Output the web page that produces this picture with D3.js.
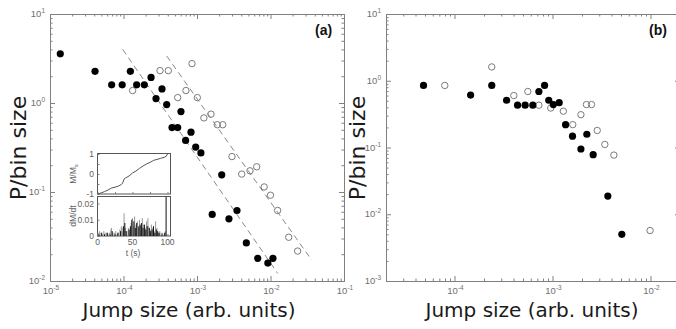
<!DOCTYPE html>
<html lang="en">
<head>
<meta charset="utf-8">
<title>P/bin size vs jump size</title>
<script src="https://d3js.org/d3.v7.min.js"></script>
<style>
  body { margin: 0; background: #fff; }
  svg { display: block; }
  .frame { fill: none; stroke: #808080; stroke-width: 1; }
  .axis path { display: none; }
  .axis line { stroke: #808080; }
  .ticklab { font-family: "Liberation Sans Narrow", "Liberation Sans", Arial, sans-serif; font-size: 9.5px; fill: #707070; }
  .title { font-family: "DejaVu Sans", sans-serif; font-size: 20px; fill: #1a1a1a; }
  .tag { font-family: "Liberation Sans", Arial, sans-serif; font-size: 14px; font-weight: bold; fill: #111; }
  .inlab { font-family: "Liberation Sans Narrow", "Liberation Sans", Arial, sans-serif; font-size: 8.5px; fill: #606060; }
</style>
</head>
<body>
<div id="chart"></div>
<script>
// ---- panel (a) data ----
var aFilledX = [1.38e-5, 4.1e-5, 6.9e-5, 9.6e-5, 1.24e-4, 1.51e-4, 1.92e-4, 2.37e-4, 2.77e-4, 3.34e-4, 3.87e-4, 4.57e-4, 5.46e-4, 6.05e-4, 7.0e-4, 8.28e-4, 9.6e-4, 1.13e-3, 1.61e-3, 2.17e-3, 2.72e-3, 3.5e-3, 4.69e-3, 6.7e-3, 9.2e-3, 1.08e-2];
var aFilledY = [3.57, 2.27, 1.6, 1.6, 2.27, 1.6, 1.6, 1.94, 1.12, 1.44, 0.96, 0.53, 0.53, 0.80, 0.38, 0.47, 0.32, 0.275, 0.056, 0.156, 0.050, 0.062, 0.0268, 0.0180, 0.0159, 0.0180];
var aOpenX = [1.33e-4, 3.14e-4, 4.07e-4, 5.46e-4, 7.07e-4, 8.55e-4, 1.01e-3, 1.24e-3, 1.55e-3, 1.89e-3, 2.24e-3, 2.99e-3, 4.06e-3, 5.26e-3, 6.49e-3, 8.2e-3, 1.0e-2, 1.25e-2, 1.77e-2, 2.34e-2];
var aOpenY = [1.38, 2.31, 2.31, 1.15, 1.38, 2.77, 1.15, 0.68, 0.75, 0.57, 0.57, 0.25, 0.159, 0.173, 0.192, 0.114, 0.092, 0.062, 0.031, 0.0217];
// dashed power-law guides (end points)
var fit1X = [9.75e-5, 1.25e-2], fit1Y = [4.0, 0.0122];
var fit2X = [3.87e-4, 3.63e-2], fit2Y = [3.37, 0.0172];

// ---- panel (b) data ----
var bFilledX = [4.83e-5, 1.46e-4, 2.4e-4, 3.4e-4, 4.4e-4, 5.26e-4, 6.3e-4, 7.26e-4, 8.3e-4, 9.16e-4, 1.02e-3, 1.17e-3, 1.36e-3, 1.6e-3, 1.95e-3, 2.24e-3, 2.6e-3, 3.67e-3, 5.1e-3];
var bFilledY = [0.85, 0.61, 0.85, 0.51, 0.43, 0.43, 0.43, 0.69, 0.85, 0.51, 0.44, 0.47, 0.22, 0.148, 0.095, 0.158, 0.078, 0.0187, 0.0050];
var bOpenX = [7.96e-5, 2.4e-4, 4.03e-4, 5.6e-4, 7.26e-4, 9.6e-4, 1.29e-3, 1.61e-3, 1.95e-3, 2.22e-3, 2.5e-3, 2.86e-3, 3.42e-3, 4.23e-3, 9.9e-3];
var bOpenY = [0.85, 1.61, 0.60, 0.69, 0.43, 0.39, 0.35, 0.22, 0.31, 0.44, 0.44, 0.18, 0.111, 0.077, 0.0057];

// ---- inset data ----
var insetT = [0, 5, 10, 15, 20, 25, 30, 34, 36, 37, 38, 40, 45, 50, 55, 60, 65, 70, 75, 80, 85, 90, 95, 98, 100];
var insetM = [-1, -0.95, -0.88, -0.8, -0.7, -0.66, -0.6, -0.53, -0.45, -0.35, -0.25, -0.2, -0.1, 0.05, 0.15, 0.28, 0.4, 0.5, 0.58, 0.68, 0.73, 0.78, 0.83, 0.88, 1.0];
var grayT = [1, 3, 5, 7, 9, 11, 13, 15, 17, 19, 20, 22, 24, 26, 28, 30, 32, 34, 35, 36, 38, 40, 42, 44, 46, 48, 50, 51, 53, 55, 57, 58, 60, 62, 64, 66, 68, 70, 72, 73, 75, 77, 79, 81, 83, 85, 87, 89, 91, 93, 95, 97];
var grayV = [0.002, 0.003, 0.002, 0.001, 0.003, 0.002, 0.002, 0.001, 0.002, 0.004, 0.005, 0.002, 0.002, 0.003, 0.001, 0.002, 0.004, 0.006, 0.005, 0.003, 0.014, 0.005, 0.003, 0.005, 0.004, 0.008, 0.011, 0.006, 0.012, 0.007, 0.009, 0.005, 0.010, 0.006, 0.011, 0.007, 0.005, 0.009, 0.011, 0.006, 0.004, 0.007, 0.005, 0.003, 0.009, 0.005, 0.002, 0.003, 0.002, 0.002, 0.001, 0.003];
var blackT = [2, 6, 10, 14, 18, 21, 25, 29, 33, 37, 39, 41, 45, 47, 49, 52, 54, 56, 59, 61, 63, 65, 67, 69, 71, 74, 76, 78, 80, 82, 84, 86, 88, 92, 96, 98];
var blackV = [0.001, 0.002, 0.001, 0.002, 0.001, 0.003, 0.001, 0.002, 0.003, 0.006, 0.008, 0.003, 0.004, 0.006, 0.010, 0.009, 0.005, 0.008, 0.006, 0.007, 0.008, 0.005, 0.007, 0.004, 0.006, 0.005, 0.003, 0.004, 0.006, 0.002, 0.004, 0.003, 0.002, 0.001, 0.002, 0.024];

var W = 676, H = 329;
var svg = d3.select("#chart").append("svg").attr("width", W).attr("height", H);

function pow10Label(g, x, y, exp, anchor) {
  var t = g.append("text").attr("class", "ticklab").attr("x", x).attr("y", y)
    .attr("text-anchor", anchor);
  t.append("tspan").text("10");
  t.append("tspan").attr("dy", -4).style("font-size", "6.5px").text(exp);
}

function drawPanel(cfg) {
  var x = d3.scaleLog().domain(cfg.xDomain).range([cfg.left, cfg.left + cfg.xSpan]);
  var y = d3.scaleLog().domain(cfg.yDomain).range([cfg.bottom, cfg.top]);
  var g = svg.append("g");

  var xt = x.ticks(), yt = y.ticks();
  var isMajor = function(v) { return Math.abs(Math.log10(v) - Math.round(Math.log10(v))) < 1e-6; };
  var xMaj = xt.filter(isMajor), xMin = xt.filter(function(v) { return !isMajor(v); });
  var yMaj = yt.filter(isMajor), yMin = yt.filter(function(v) { return !isMajor(v); });

  // inward ticks on all four sides
  [[xMin, 2.5], [xMaj, 5]].forEach(function(p) {
    g.append("g").attr("class", "axis").attr("transform", "translate(0," + cfg.bottom + ")")
      .call(d3.axisBottom(x).tickValues(p[0]).tickSize(-p[1]).tickFormat(""));
    g.append("g").attr("class", "axis").attr("transform", "translate(0," + cfg.top + ")")
      .call(d3.axisTop(x).tickValues(p[0]).tickSize(-p[1]).tickFormat(""));
  });
  [[yMin, 2.5], [yMaj, 5]].forEach(function(p) {
    g.append("g").attr("class", "axis").attr("transform", "translate(" + cfg.left + ",0)")
      .call(d3.axisLeft(y).tickValues(p[0]).tickSize(-p[1]).tickFormat(""));
    g.append("g").attr("class", "axis").attr("transform", "translate(" + (cfg.left + cfg.xSpan) + ",0)")
      .call(d3.axisRight(y).tickValues(p[0]).tickSize(-p[1]).tickFormat(""));
  });

  g.append("rect").attr("class", "frame")
    .attr("x", cfg.left + 0.5).attr("y", cfg.top + 0.5)
    .attr("width", cfg.xSpan).attr("height", cfg.bottom - cfg.top);

  xMaj.forEach(function(v) {
    pow10Label(g, x(v) + 1, cfg.bottom + 13, String(Math.round(Math.log10(v))), "middle");
  });
  yMaj.forEach(function(v) {
    pow10Label(g, cfg.left - 5, y(v) + 3, String(Math.round(Math.log10(v))), "end");
  });

  if (cfg.fits) {
    var line = d3.line().x(function(d) { return x(d[0]); }).y(function(d) { return y(d[1]); });
    cfg.fits.forEach(function(f) {
      g.append("path").attr("d", line(d3.zip(f[0], f[1])))
        .attr("fill", "none").attr("stroke", "#8a8a8a").attr("stroke-width", 1)
        .attr("stroke-dasharray", "6,4");
    });
  }

  g.selectAll(".open").data(d3.zip(cfg.openX, cfg.openY)).enter().append("circle")
    .attr("cx", function(d) { return x(d[0]); }).attr("cy", function(d) { return y(d[1]); })
    .attr("r", 3.2).attr("fill", "none").attr("stroke", "#7a7a7a").attr("stroke-width", 1);
  g.selectAll(".filled").data(d3.zip(cfg.filledX, cfg.filledY)).enter().append("circle")
    .attr("cx", function(d) { return x(d[0]); }).attr("cy", function(d) { return y(d[1]); })
    .attr("r", 3.6).attr("fill", "#000");

  g.append("text").attr("class", "title")
    .attr("transform", "translate(" + cfg.yTitleX + ",148) rotate(-90)")
    .attr("text-anchor", "middle").style("font-size", "22px").text("P/bin size");
  g.append("text").attr("class", "title")
    .attr("x", cfg.xTitleX).attr("y", 317).attr("text-anchor", "middle")
    .text("Jump size (arb. units)");
  g.append("text").attr("class", "tag").attr("x", cfg.tagX).attr("y", 35).text(cfg.tag);
}

drawPanel({
  xDomain: [1e-5, 1e-1], yDomain: [1e-2, 1e1],
  left: 50, xSpan: 294, top: 14, bottom: 281,
  filledX: aFilledX, filledY: aFilledY, openX: aOpenX, openY: aOpenY,
  fits: [[fit1X, fit1Y], [fit2X, fit2Y]],
  yTitleX: 26, xTitleX: 189, tag: "(a)", tagX: 315
});
drawPanel({
  xDomain: [2e-5, 2e-2], yDomain: [1e-3, 1e1],
  left: 386, xSpan: 294, top: 14, bottom: 281,
  filledX: bFilledX, filledY: bFilledY, openX: bOpenX, openY: bOpenY,
  fits: null,
  yTitleX: 365, xTitleX: 532, tag: "(b)", tagX: 649
});

// ---- inset in panel (a) ----
(function() {
  var ix = d3.scaleLinear().domain([0, 100]).range([97.5, 167.5]);
  var iyTop = d3.scaleLinear().domain([-1, 1]).range([194, 154]);
  var iyBot = d3.scaleLinear().domain([0, 0.024]).range([236, 197]);
  var g = svg.append("g");
  g.append("rect").attr("x", 97.5).attr("y", 153.5).attr("width", 73).attr("height", 40.5)
    .attr("fill", "#fff").attr("stroke", "#555");
  g.append("rect").attr("x", 97.5).attr("y", 196.5).attr("width", 73).attr("height", 39.5)
    .attr("fill", "#fff").attr("stroke", "#555");

  var tk = [0, 25, 50, 75, 100];
  g.append("g").attr("class", "axis").attr("transform", "translate(0,194)")
    .call(d3.axisBottom(ix).tickValues(tk).tickSize(-2).tickFormat(""));
  g.append("g").attr("class", "axis").attr("transform", "translate(0,236)")
    .call(d3.axisBottom(ix).tickValues(tk).tickSize(-2).tickFormat(""));
  g.append("g").attr("class", "axis").attr("transform", "translate(97.5,0)")
    .call(d3.axisLeft(iyTop).tickValues([-1, -0.5, 0, 0.5, 1]).tickSize(-2).tickFormat(""));
  g.append("g").attr("class", "axis").attr("transform", "translate(97.5,0)")
    .call(d3.axisLeft(iyBot).tickValues([0, 0.01, 0.02]).tickSize(-2).tickFormat(""));

  g.append("path").datum(d3.zip(insetT, insetM))
    .attr("d", d3.line().x(function(d) { return ix(d[0]); }).y(function(d) { return iyTop(d[1]); }))
    .attr("fill", "none").attr("stroke", "#555").attr("stroke-width", 1);

  g.selectAll(".gs").data(d3.zip(grayT, grayV)).enter().append("line")
    .attr("x1", function(d) { return ix(d[0]); }).attr("x2", function(d) { return ix(d[0]); })
    .attr("y1", iyBot(0)).attr("y2", function(d) { return iyBot(d[1]); })
    .attr("stroke", "#999").attr("stroke-width", 1);
  g.selectAll(".bs").data(d3.zip(blackT, blackV)).enter().append("line")
    .attr("x1", function(d) { return ix(d[0]); }).attr("x2", function(d) { return ix(d[0]); })
    .attr("y1", iyBot(0)).attr("y2", function(d) { return iyBot(d[1]); })
    .attr("stroke", "#111").attr("stroke-width", 1);

  [[1, "1"], [0, "0"], [-1, "-1"]].forEach(function(p) {
    g.append("text").attr("class", "inlab").attr("x", 94).attr("y", iyTop(p[0]) + 3)
      .attr("text-anchor", "end").text(p[1]);
  });
  [[0.02, "0.02"], [0.01, "0.01"], [0, "0"]].forEach(function(p) {
    g.append("text").attr("class", "inlab").attr("x", 94).attr("y", iyBot(p[0]) + 3)
      .attr("text-anchor", "end").text(p[1]);
  });
  [0, 50, 100].forEach(function(v) {
    g.append("text").attr("class", "inlab").attr("x", ix(v)).attr("y", 245)
      .attr("text-anchor", "middle").text(v);
  });
  g.append("text").attr("class", "inlab").attr("x", 133).attr("y", 256)
    .attr("text-anchor", "middle").text("t (s)");
  var ms = g.append("text").attr("class", "inlab")
    .attr("transform", "translate(76,174) rotate(-90)").attr("text-anchor", "middle");
  ms.append("tspan").text("M/M");
  ms.append("tspan").attr("dy", 2).style("font-size", "6px").text("s");
  g.append("text").attr("class", "inlab")
    .attr("transform", "translate(76,216) rotate(-90)").attr("text-anchor", "middle").text("dM/dt");
})();
</script>
</body>
</html>
